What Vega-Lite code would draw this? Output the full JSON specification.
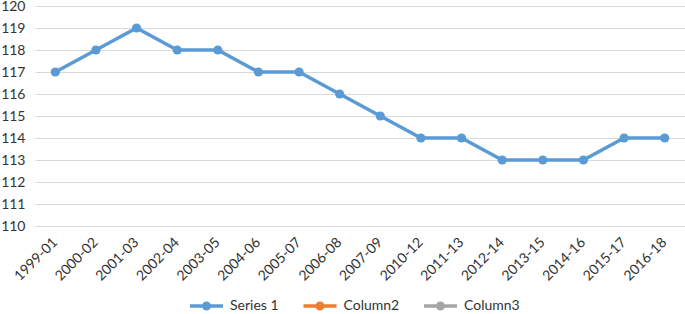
{
  "$schema": "https://vega.github.io/schema/vega-lite/v6.json",
  "width": 650,
  "height": 220,
  "autosize": {"type": "none"},
  "padding": {"left": 35, "top": 6, "right": 0, "bottom": 88},
  "background": "white",
  "config": {
    "font": "Lato",
    "view": {"stroke": null},
    "axis": {"labelFont": "Lato", "labelColor": "#333333"}
  },
  "data": {
    "values": [
      {"period": "1999-01", "value": 117, "series": "Series 1"},
      {"period": "2000-02", "value": 118, "series": "Series 1"},
      {"period": "2001-03", "value": 119, "series": "Series 1"},
      {"period": "2002-04", "value": 118, "series": "Series 1"},
      {"period": "2003-05", "value": 118, "series": "Series 1"},
      {"period": "2004-06", "value": 117, "series": "Series 1"},
      {"period": "2005-07", "value": 117, "series": "Series 1"},
      {"period": "2006-08", "value": 116, "series": "Series 1"},
      {"period": "2007-09", "value": 115, "series": "Series 1"},
      {"period": "2010-12", "value": 114, "series": "Series 1"},
      {"period": "2011-13", "value": 114, "series": "Series 1"},
      {"period": "2012-14", "value": 113, "series": "Series 1"},
      {"period": "2013-15", "value": 113, "series": "Series 1"},
      {"period": "2014-16", "value": 113, "series": "Series 1"},
      {"period": "2015-17", "value": 114, "series": "Series 1"},
      {"period": "2016-18", "value": 114, "series": "Series 1"}
    ]
  },
  "encoding": {
    "x": {
      "field": "period", "type": "ordinal", "sort": null,
      "scale": {"type": "band", "paddingInner": 0, "paddingOuter": 0},
      "axis": {"title": null, "labelAngle": -45, "labelAlign": "right", "labelBaseline": "middle", "labelPadding": 14, "labelFontSize": 14, "ticks": false, "domain": true, "domainColor": "#d9d9d9", "grid": false}
    },
    "y": {
      "field": "value", "type": "quantitative",
      "scale": {"domain": [110, 120], "nice": false, "zero": false},
      "axis": {"title": null, "values": [110,111,112,113,114,115,116,117,118,119,120], "labelFontSize": 14, "ticks": false, "domain": false, "grid": true, "gridColor": "#d9d9d9", "gridWidth": 1, "labelPadding": 10}
    }
  },
  "layer": [
    {
      "mark": {"type": "line", "color": "#5B9BD5", "strokeWidth": 3.5}
    },
    {
      "mark": {"type": "point", "filled": true, "opacity": 1, "size": 85},
      "encoding": {
        "color": {
          "field": "series", "type": "nominal",
          "scale": {"domain": ["Series 1", "Column2", "Column3"], "range": ["#5B9BD5", "#ED7D31", "#A5A5A5"]},
          "legend": {
            "title": null, "orient": "none", "direction": "horizontal",
            "legendX": 160.5, "legendY": 289,
            "symbolType": "M-1.5,-0.16L1.5,-0.16L1.5,0.16L-1.5,0.16Z M0.41,0A0.41,0.41 0 1 1 -0.41,0A0.41,0.41 0 1 1 0.41,0Z",
            "symbolSize": 484, "symbolStrokeWidth": 0, "symbolOpacity": 1,
            "labelFont": "Lato", "labelFontSize": 14, "labelColor": "#333333",
            "labelOffset": 12.5, "columnPadding": 23.5
          }
        }
      }
    }
  ]
}
